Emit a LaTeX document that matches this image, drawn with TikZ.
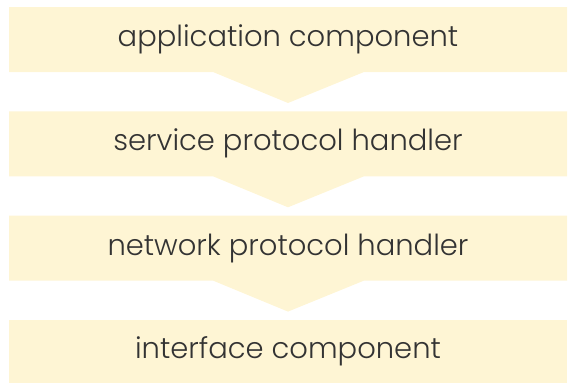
\documentclass[tikz,border=0pt]{standalone}
\usepackage{fontspec}
\setmainfont{Poppins}[UprightFont={* Light}]
\definecolor{boxfill}{HTML}{FEF5D4}
\definecolor{txt}{HTML}{333333}
\tikzset{
  layerbox/.style={fill=boxfill, draw=none},
  layertext/.style={text=txt, font=\fontsize{29}{33}\selectfont, inner sep=0pt}
}
\begin{document}
\begin{tikzpicture}[x=1pt,y=1pt]
\useasboundingbox (0,0) rectangle (574,-383);
% boxes with chevrons
\foreach \t in {7,111.3,215.6}{
  \fill[layerbox] (9,-\t) -- (567,-\t) -- (567,-\t-65) -- (364,-\t-65) -- (288,-\t-96) -- (213,-\t-65) -- (9,-\t-65) -- cycle;
}
\fill[layerbox] (9,-320) rectangle (567,-383);
\node[layertext] (app) at (288,-39.5) {application component};
\node[layertext] (svc) at (288,-143.8) {service protocol handler};
\node[layertext] (net) at (288,-248.1) {network protocol handler};
\node[layertext] (ifc) at (288,-351.5) {interface component};
\end{tikzpicture}
\end{document}
